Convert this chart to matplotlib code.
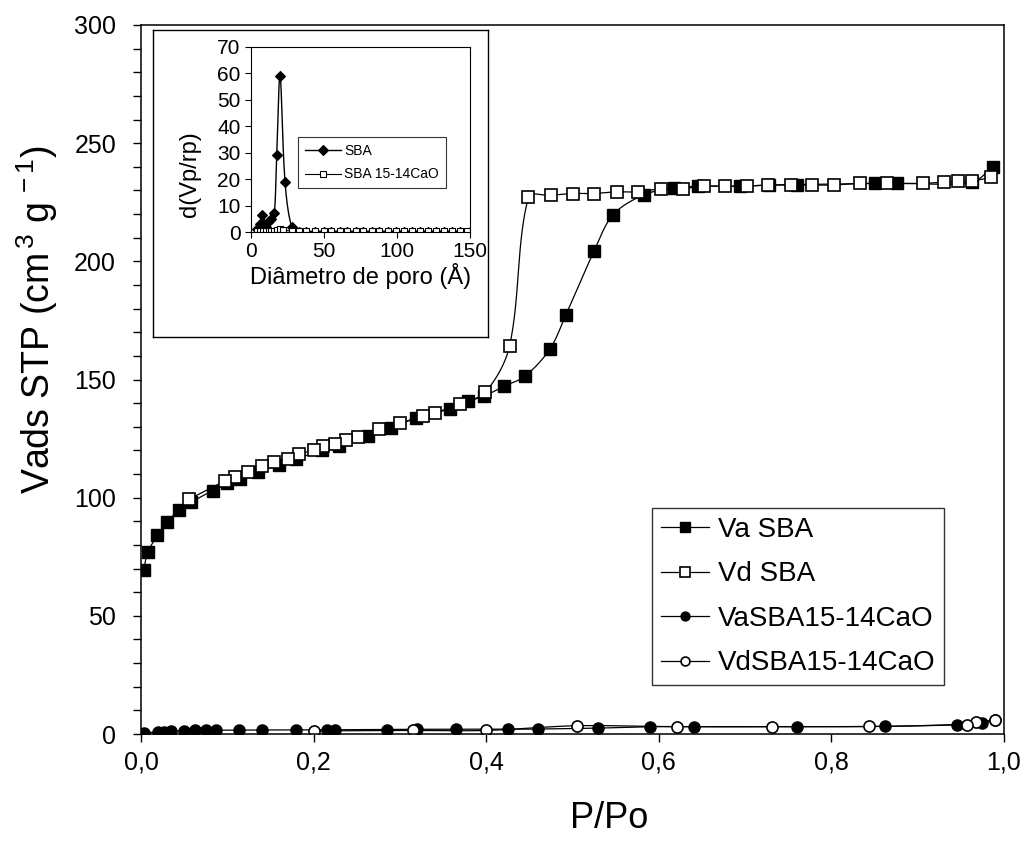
import numpy as np
import matplotlib
matplotlib.use("Agg")
import matplotlib.pyplot as plt
from matplotlib.ticker import MultipleLocator

plt.rcParams['font.family'] = ['Liberation Sans', 'DejaVu Sans']
plt.rcParams['mathtext.fontset'] = 'custom'
plt.rcParams['mathtext.rm'] = 'Liberation Sans'
plt.rcParams['mathtext.it'] = 'Liberation Sans:italic'

# Main chart: adsorption (Va) / desorption (Vd) isotherms
va_sba_x = [0.003, 0.008, 0.019, 0.030, 0.044, 0.058, 0.083, 0.100, 0.115, 0.135, 0.160,
            0.180, 0.210, 0.230, 0.263, 0.290, 0.319, 0.358, 0.379, 0.397, 0.421, 0.445,
            0.474, 0.492, 0.525, 0.547, 0.583, 0.618, 0.646, 0.694, 0.728, 0.760, 0.850,
            0.876, 0.963, 0.987]
va_sba_y = [69.5, 77, 84, 89.7, 94.6, 98, 103, 106, 108, 111, 114,
            116.5, 120, 122, 126.3, 129.5, 133.8, 137.6, 140.8, 142.9, 147.2, 151.4,
            163, 177.1, 204.3, 219.7, 228.2, 231, 231.8, 231.8, 232.3, 232.5, 233,
            233, 233.5, 240]

vd_sba_x = [0.985, 0.963, 0.947, 0.930, 0.906, 0.865, 0.833, 0.803, 0.778, 0.753, 0.727,
            0.702, 0.677, 0.652, 0.628, 0.603, 0.576, 0.551, 0.525, 0.500, 0.475, 0.449,
            0.427, 0.399, 0.370, 0.341, 0.327, 0.300, 0.276, 0.251, 0.238, 0.225, 0.211,
            0.200, 0.183, 0.170, 0.154, 0.140, 0.124, 0.109, 0.097, 0.056]
vd_sba_y = [235.5, 234, 233.9, 233.5, 233, 233, 233, 232.3, 232.3, 232.3, 232.3,
            231.8, 231.8, 231.8, 230.7, 230.7, 229.4, 229.4, 228.7, 228.7, 227.9, 227.1,
            164.1, 144.6, 139.8, 135.9, 134.7, 131.4, 129.1, 125.7, 124.3, 122.8, 121.7,
            120, 118.6, 116.5, 115, 113.3, 110.9, 108.8, 107, 99.4]

va_cao_x = [0.003, 0.020, 0.027, 0.035, 0.050, 0.062, 0.075, 0.087, 0.113, 0.140, 0.180,
            0.215, 0.225, 0.285, 0.320, 0.365, 0.425, 0.460, 0.530, 0.590, 0.641, 0.760,
            0.862, 0.945, 0.975, 0.990]
va_cao_y = [0.5, 0.8, 1.0, 1.2, 1.4, 1.5, 1.5, 1.6, 1.6, 1.7, 1.7,
            1.8, 1.8, 1.9, 2.0, 2.0, 2.0, 2.1, 2.5, 3.1, 3.1, 3.1,
            3.2, 4.0, 4.5, 6.0]

vd_cao_x = [0.990, 0.968, 0.957, 0.843, 0.731, 0.621, 0.505, 0.400, 0.315, 0.200]
vd_cao_y = [6.0, 5.0, 4.0, 3.2, 3.1, 3.1, 3.5, 1.5, 1.5, 1.3]

x_ticks = [0.0, 0.2, 0.4, 0.6, 0.8, 1.0]
x_tick_labels = ['0,0', '0,2', '0,4', '0,6', '0,8', '1,0']

# Inset: pore size distribution
psd_sba_x = [4, 6, 7.5, 9, 10.5, 12, 14, 16, 17.6, 19.9, 23.3, 27.9, 33, 38, 44, 50,
             55, 61, 66, 72, 77, 83, 88, 94, 99, 105, 110, 116, 121, 127, 132, 138,
             143, 150]
psd_sba_y = [1, 3, 6.4, 3, 2, 4, 5, 7, 29, 59, 19, 1.8, 0, 0, 0, 0,
             0, 0, 0, 0, 0, 0, 0, 0, 0, 0, 0, 0, 0, 0, 0, 0,
             0, 0]
psd_cao_x = [4, 6, 8, 10, 12, 14, 16, 18, 20, 22, 27.9, 33, 38, 44, 50, 55, 61, 66,
             72, 77, 83, 88, 94, 99, 105, 110, 116, 121, 127, 132, 138, 143, 148]
psd_cao_y = [0.3, 0.3, 0.3, 0.3, 0.3, 0.3, 0.4, 0.6, 1.0, 0.8, 0.3, 0.2, 0.2, 0.2, 0.2,
             0.2, 0.2, 0.2, 0.2, 0.2, 0.2, 0.2, 0.2, 0.2, 0.2, 0.2, 0.2, 0.2, 0.2, 0.2,
             0.2, 0.2, 0.2]


def smooth(ax, x, y, n=16):
    """Bezier curve through the points (like Excel's smoothed line).
    Tangents are scaled by the neighbouring chord lengths in screen space."""
    x0, x1 = ax.get_xlim()
    y0, y1 = ax.get_ylim()
    bb = ax.get_position()
    sx = bb.width / (x1 - x0)
    sy = bb.height / (y1 - y0) * 852 / 1024
    p = np.column_stack([x, y]).astype(float)
    p = np.vstack([p[0], p, p[-1]])
    q = p * [sx, sy]

    def d(i, j):
        return np.hypot(*(q[i] - q[j])) + 1e-12

    out = []
    t = np.linspace(0, 1, n, endpoint=False)[:, None]
    for i in range(1, len(p) - 2):
        p0, p1, p2, p3 = p[i - 1], p[i], p[i + 1], p[i + 2]
        d01, d12, d23 = d(i - 1, i), d(i, i + 1), d(i + 1, i + 2)
        c1 = p1 + (p2 - p0) * d12 / (3 * (d01 + d12))
        c2 = p2 - (p3 - p1) * d12 / (3 * (d12 + d23))
        seg = ((1 - t) ** 3) * p1 + 3 * ((1 - t) ** 2) * t * c1 + 3 * (1 - t) * t ** 2 * c2 + t ** 3 * p2
        out.append(seg)
    out.append(p[-2][None, :])
    out = np.vstack(out)
    return out[:, 0], out[:, 1]


def series(ax, x, y, marker, face, ms, mew, label=None, lw=0.9):
    cx, cy = smooth(ax, x, y)
    ax.plot(cx, cy, '-', color='black', lw=lw)
    ax.plot(x, y, linestyle='none', marker=marker, ms=ms, mfc=face, mec='black', mew=mew)
    if label:
        ax.plot([], [], '-', color='black', lw=lw, marker=marker, ms=ms, mfc=face,
                mec='black', mew=mew, label=label)


fig = plt.figure(figsize=(10.24, 8.52), dpi=100)
ax = fig.add_axes([141 / 1024, 1 - 734 / 852, 863 / 1024, 709 / 852])
ax.set_xlim(0, 1.0)
ax.set_ylim(0, 300)

series(ax, va_sba_x, va_sba_y, 's', 'black', 9, 1.0, 'Va SBA')
series(ax, vd_sba_x, vd_sba_y, 's', 'white', 9, 1.2, 'Vd SBA')
series(ax, va_cao_x, va_cao_y, 'o', 'black', 8, 1.0, 'VaSBA15-14CaO')
series(ax, vd_cao_x, vd_cao_y, 'o', 'white', 8, 1.2, 'VdSBA15-14CaO')

ax.set_xticks(x_ticks)
ax.set_xticklabels(x_tick_labels)
ax.yaxis.set_major_locator(MultipleLocator(50))
ax.yaxis.set_minor_locator(MultipleLocator(10))
ax.tick_params(which='both', direction='out', labelsize=18, width=1.0, length=6)
ax.tick_params(axis='y', pad=12)
ax.tick_params(axis='x', pad=6)
for s in ax.spines.values():
    s.set_linewidth(1.1)
ax.set_xlabel('P/Po', fontsize=26)
ax.xaxis.set_label_coords(0.543, -0.095)
ax.set_ylabel('Vads STP (cm$^{\\,3}$ g$^{\\,-1}$)', fontsize=27)
ax.yaxis.set_label_coords(-0.094, 0.585)

leg = ax.legend(loc='upper left', bbox_to_anchor=(0.5925, 0.3183), borderaxespad=0,
                fontsize=20, frameon=True, fancybox=False, edgecolor='black',
                handlelength=1.75, handletextpad=0.3, labelspacing=0.67,
                borderpad=0.3, markerscale=0.8)
leg.get_frame().set_linewidth(1.0)

# Inset frame
box = fig.add_axes([153.3 / 1024, 1 - 336.7 / 852, 335 / 1024, 306.7 / 852])
box.set_xticks([])
box.set_yticks([])
for s in box.spines.values():
    s.set_linewidth(1.0)

ins = fig.add_axes([251 / 1024, 1 - 232 / 852, 219 / 1024, 185.3 / 852])
ins.set_xlim(0, 150)
ins.set_ylim(0, 70)
series(ins, psd_sba_x, psd_sba_y, 'D', 'black', 5.5, 0.8, 'SBA', lw=1.0)
series(ins, psd_cao_x, psd_cao_y, 's', 'white', 5, 0.8, 'SBA 15-14CaO', lw=0.8)
ins.set_xticks([0, 50, 100, 150])
ins.set_yticks(range(0, 71, 10))
ins.tick_params(direction='out', labelsize=15, length=4, width=0.8)
for s in ins.spines.values():
    s.set_linewidth(0.8)
ins.set_xlabel('Diâmetro de poro (Å)', fontsize=17, labelpad=1)
ins.set_ylabel('d(Vp/rp)', fontsize=17)
ins.yaxis.set_label_coords(-0.23, 0.31)
ileg = ins.legend(loc='upper left', bbox_to_anchor=(0.216, 0.514), borderaxespad=0,
                  fontsize=10, frameon=True, fancybox=False, edgecolor='black',
                  handlelength=2.6, handletextpad=0.2, labelspacing=0.7, borderpad=0.5)
ileg.get_frame().set_linewidth(0.8)

plt.savefig('out.png', dpi=100)
